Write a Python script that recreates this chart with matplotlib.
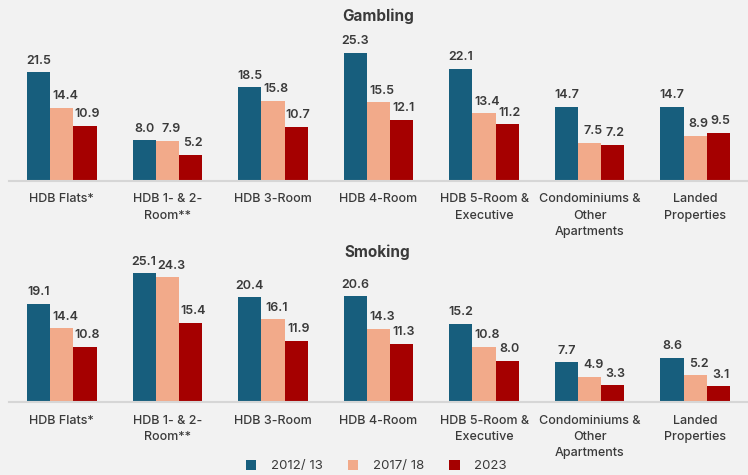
import matplotlib.pyplot as plt
import numpy as np

# categories and values (percent)
categories = ["HDB Flats*", "HDB 1- & 2-\nRoom**", "HDB 3-Room", "HDB 4-Room",
              "HDB 5-Room &\nExecutive", "Condominiums &\nOther\nApartments",
              "Landed\nProperties"]
series_names = ["2012/ 13", "2017/ 18", "2023"]

gambling_2012 = [21.5, 8.0, 18.5, 25.3, 22.1, 14.7, 14.7]
gambling_2017 = [14.4, 7.9, 15.8, 15.5, 13.4, 7.5, 8.9]
gambling_2023 = [10.9, 5.2, 10.7, 12.1, 11.2, 7.2, 9.5]

smoking_2012 = [19.1, 25.1, 20.4, 20.6, 15.2, 7.7, 8.6]
smoking_2017 = [14.4, 24.3, 16.1, 14.3, 10.8, 4.9, 5.2]
smoking_2023 = [10.8, 15.4, 11.9, 11.3, 8.0, 3.3, 3.1]

colors = ["#175e7d", "#f2aa8a", "#a50000"]
bg = "#f2f2f2"
txt = "#3a3a3a"

plt.rcParams['font.family'] = ['Inter', 'DejaVu Sans']

fig = plt.figure(figsize=(7.48, 4.75), dpi=100, facecolor=bg)
ax_top = fig.add_axes([9 / 748, (475 - 181) / 475, 739 / 748, 152 / 475])
ax_bot = fig.add_axes([9 / 748, (475 - 402) / 475, 739 / 748, 154 / 475])

x = np.arange(len(categories))
w = 0.22
# small horizontal nudge of the value labels per series (points)
nudge = [0, 2.5, 1.5]


def draw(ax, title, title_y, data):
    ax.set_facecolor(bg)
    for i, vals in enumerate(data):
        pos = x + (i - 1) * w
        bars = ax.bar(pos, vals, width=w, color=colors[i], label=series_names[i])
        for b, v in zip(bars, vals):
            ax.annotate(f"{v:.1f}", (b.get_x() + b.get_width() / 2, v),
                        xytext=(nudge[i], 4), textcoords="offset points",
                        ha="center", va="bottom", fontsize=9,
                        fontweight="semibold", color=txt)
    ax.set_xlim(-0.5, 6.5)
    ax.set_ylim(0, 30)
    ax.set_yticks([])
    ax.set_xticks(x)
    ax.set_xticklabels(categories, fontsize=9, color=txt, fontweight="medium",
                       linespacing=1.45)
    ax.tick_params(axis="x", length=0, pad=9)
    for s in ["top", "right", "left"]:
        ax.spines[s].set_visible(False)
    ax.spines["bottom"].set_color("#d6d6d6")
    ax.spines["bottom"].set_linewidth(1.5)
    fig.text(0.505, 1 - title_y / 475, title, ha="center", va="center",
             fontsize=11, fontweight="bold", color=txt)


draw(ax_top, "Gambling", 16, [gambling_2012, gambling_2017, gambling_2023])
draw(ax_bot, "Smoking", 252, [smoking_2012, smoking_2017, smoking_2023])

handles, labels = ax_top.get_legend_handles_labels()
fig.legend(handles, labels, loc="center", bbox_to_anchor=(0.503, 0.019),
           ncol=3, frameon=False, fontsize=9.5, handlelength=0.8,
           handleheight=0.8, columnspacing=1.9, handletextpad=1.1,
           labelcolor=txt)

fig.savefig("out.png", dpi=100, facecolor=bg)
